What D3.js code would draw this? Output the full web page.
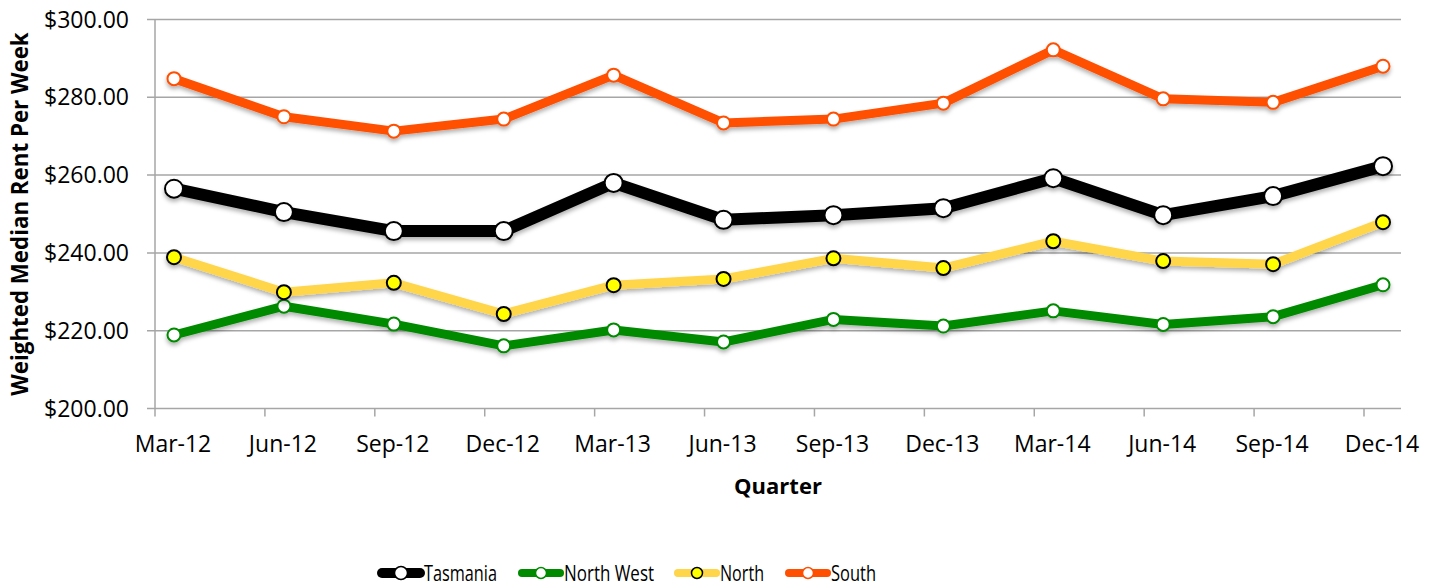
<!DOCTYPE html>
<html lang="en">
<head>
<meta charset="UTF-8">
<title>Weighted Median Rent</title>
<script src="https://d3js.org/d3.v7.min.js"></script>
<style>
  body { margin: 0; background: #fff; }
  text { font-family: "Open Sans", sans-serif; fill: #000; }
</style>
</head>
<body>
<script>
// quarters on the x axis
const quarters = ["Mar-12", "Jun-12", "Sep-12", "Dec-12", "Mar-13", "Jun-13",
                  "Sep-13", "Dec-13", "Mar-14", "Jun-14", "Sep-14", "Dec-14"];

// weighted median rent per week ($)
const tasmania  = [256.5, 250.5, 245.6, 245.6, 258.0, 248.5, 249.7, 251.5, 259.2, 249.7, 254.6, 262.3];
const northWest = [218.9, 226.3, 221.7, 216.1, 220.2, 217.1, 222.9, 221.2, 225.1, 221.6, 223.6, 231.8];
const north     = [238.9, 229.9, 232.3, 224.3, 231.7, 233.3, 238.6, 236.1, 243.0, 237.9, 237.1, 247.9];
const south     = [284.8, 275.0, 271.3, 274.4, 285.7, 273.4, 274.4, 278.5, 292.2, 279.6, 278.7, 288.0];

const yTicks = [200, 220, 240, 260, 280, 300];

const series = [
  {name: "Tasmania",   values: tasmania,  line: "#000000", lw: 12, fill: "#ffffff", stroke: "#000000", r: 9},
  {name: "North West", values: northWest, line: "#008A00", lw: 9, fill: "#ffffff", stroke: "#008A00", r: 6.5},
  {name: "North",      values: north,     line: "#FFD54A", lw: 9, fill: "#FFFF00", stroke: "#000000", r: 7},
  {name: "South",      values: south,     line: "#FF4F00", lw: 9, fill: "#ffffff", stroke: "#FF4F00", r: 6.5}
];

// legend text widths as they appear (squeezed)
const legendWidths = [73, 90, 44, 45];

const W = 1439, H = 588;
const plotLeft = 155, plotRight = 1401, plotTop = 19.5, plotBottom = 408.5;

const svg = d3.select("body").append("svg")
    .attr("width", W)
    .attr("height", H);

const defs = svg.append("defs");
const shadow = defs.append("filter").attr("id", "shadow")
    .attr("x", "-20%").attr("y", "-20%").attr("width", "140%").attr("height", "160%");
shadow.append("feDropShadow")
    .attr("dx", 0).attr("dy", 3).attr("stdDeviation", 2)
    .attr("flood-color", "#000").attr("flood-opacity", 0.3);

// points sit a bit right of each tick (date axis look)
const x = d3.scaleLinear()
    .domain([0, quarters.length - 1])
    .range([174, 1383]);

const y = d3.scaleLinear()
    .domain([200, 300])
    .range([plotBottom, plotTop]);

// gridlines
svg.append("g")
  .selectAll("line")
  .data(yTicks)
  .join("line")
    .attr("x1", plotLeft - 8)
    .attr("x2", plotRight)
    .attr("y1", d => y(d))
    .attr("y2", d => y(d))
    .attr("stroke", "#a6a6a6")
    .attr("stroke-width", 1.5);

// y axis line
svg.append("line")
    .attr("x1", plotLeft).attr("x2", plotLeft)
    .attr("y1", plotTop).attr("y2", plotBottom)
    .attr("stroke", "#a6a6a6").attr("stroke-width", 1.5);

// y labels
svg.append("g")
  .selectAll("text")
  .data(yTicks)
  .join("text")
    .attr("x", 129)
    .attr("y", d => y(d))
    .attr("dy", "0.35em")
    .attr("text-anchor", "end")
    .style("font-size", "23px")
    .text(d => "$" + d3.format(".2f")(d));

// x ticks
svg.append("g")
  .selectAll("line")
  .data(quarters)
  .join("line")
    .attr("x1", (d, i) => x(i) - 19)
    .attr("x2", (d, i) => x(i) - 19)
    .attr("y1", plotBottom)
    .attr("y2", plotBottom + 8)
    .attr("stroke", "#a6a6a6")
    .attr("stroke-width", 1.5);

// x labels
svg.append("g")
  .selectAll("text")
  .data(quarters)
  .join("text")
    .attr("x", (d, i) => x(i) - 1)
    .attr("y", 452)
    .attr("text-anchor", "middle")
    .style("font-size", "23px")
    .text(d => d);

// axis titles
svg.append("text")
    .attr("transform", "translate(28," + ((plotTop + plotBottom) / 2 + 0) + ") rotate(-90)")
    .attr("text-anchor", "middle")
    .style("font-size", "22.3px")
    .style("font-weight", "bold")
    .text("Weighted Median Rent Per Week");

svg.append("text")
    .attr("x", 778)
    .attr("y", 494)
    .attr("text-anchor", "middle")
    .style("font-size", "22px")
    .style("font-weight", "bold")
    .text("Quarter");

// lines
const line = d3.line()
    .x((d, i) => x(i))
    .y(d => y(d));

const groups = svg.selectAll("g.series")
  .data(series)
  .join("g")
    .attr("class", "series")
    .attr("filter", "url(#shadow)");

groups.append("path")
    .attr("d", d => line(d.values))
    .attr("fill", "none")
    .attr("stroke", d => d.line)
    .attr("stroke-width", d => d.lw)
    .attr("stroke-linejoin", "round");

groups.each(function(s) {
  d3.select(this).selectAll("circle")
    .data(s.values)
    .join("circle")
      .attr("cx", (d, i) => x(i))
      .attr("cy", d => y(d))
      .attr("r", s.r)
      .attr("fill", s.fill)
      .attr("stroke", s.stroke)
      .attr("stroke-width", 2);
});

// legend
const legendX = [382, 522, 678, 789];
const legend = svg.append("g");
series.forEach((s, i) => {
  const g = legend.append("g").attr("transform", "translate(" + legendX[i] + ",573)");
  g.append("line")
    .attr("x1", 0).attr("x2", 38)
    .attr("y1", 0).attr("y2", 0)
    .attr("stroke", s.line)
    .attr("stroke-width", i === 0 ? 10 : 8)
    .attr("stroke-linecap", "round");
  g.append("circle")
    .attr("cx", 19).attr("cy", 0)
    .attr("r", i === 0 ? 6.5 : 5.5)
    .attr("fill", s.fill)
    .attr("stroke", s.stroke)
    .attr("stroke-width", 1.5);
  g.append("text")
    .attr("x", 42)
    .attr("y", 0)
    .attr("dy", "0.35em")
    .attr("textLength", legendWidths[i])
    .attr("lengthAdjust", "spacingAndGlyphs")
    .style("font-size", "22px")
    .text(s.name);
});
</script>
</body>
</html>
